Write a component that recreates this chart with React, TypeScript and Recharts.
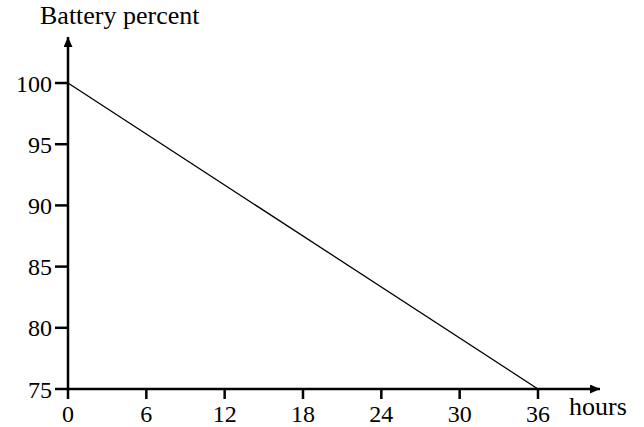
import { Line, LineChart, XAxis, YAxis } from "recharts";

const hours = [0, 36];
const battery = [100, 75];
const hourTicks = [0, 6, 12, 18, 24, 30, 36];
const percentTicks = [75, 80, 85, 90, 95, 100];

const data = hours.map((h, i) => ({ hours: h, battery: battery[i] }));

const font = "'Liberation Serif', 'Times New Roman', serif";
const tickStyle = { fontSize: 24, fill: "#000", fontFamily: font };

export default function App() {
  return (
    <div style={{ position: "relative", width: 644, height: 427, background: "#fff" }}>
      <style>{"body{margin:0}"}</style>
      <svg width={0} height={0} style={{ position: "absolute" }}>
        <defs>
          <marker
            id="arrow"
            markerWidth={10}
            markerHeight={9}
            refX={10}
            refY={4.5}
            orient="auto-start-reverse"
            markerUnits="userSpaceOnUse"
          >
            <path d="M0,0 L10,4.5 L0,9 z" fill="#000" />
          </marker>
        </defs>
      </svg>
      <LineChart width={644} height={427} data={data} margin={{ top: 37, right: 44, bottom: 0, left: 0 }}>
        <XAxis
          dataKey="hours"
          type="number"
          domain={[0, 40.75]}
          ticks={hourTicks}
          allowDataOverflow
          height={38}
          tickSize={10}
          tickMargin={6}
          tick={tickStyle}
          axisLine={{ stroke: "#000", strokeWidth: 2.5, markerEnd: "url(#arrow)" }}
          tickLine={{ stroke: "#000", strokeWidth: 2.5 }}
        />
        <YAxis
          type="number"
          domain={[75, 103.76]}
          ticks={percentTicks}
          allowDataOverflow
          width={68}
          tickSize={13}
          tickMargin={3}
          tick={tickStyle}
          axisLine={{ stroke: "#000", strokeWidth: 2.5, markerStart: "url(#arrow)" }}
          tickLine={{ stroke: "#000", strokeWidth: 2.5 }}
        />
        <Line
          dataKey="battery"
          type="linear"
          stroke="#000"
          strokeWidth={1.3}
          dot={false}
          isAnimationActive={false}
        />
      </LineChart>
      <div style={{ position: "absolute", left: 40, top: 0, fontFamily: font, fontSize: 26, lineHeight: "32px", color: "#000" }}>
        Battery percent
      </div>
      <div style={{ position: "absolute", left: 569, top: 391, fontFamily: font, fontSize: 26, lineHeight: "32px", color: "#000" }}>
        hours
      </div>
    </div>
  );
}
